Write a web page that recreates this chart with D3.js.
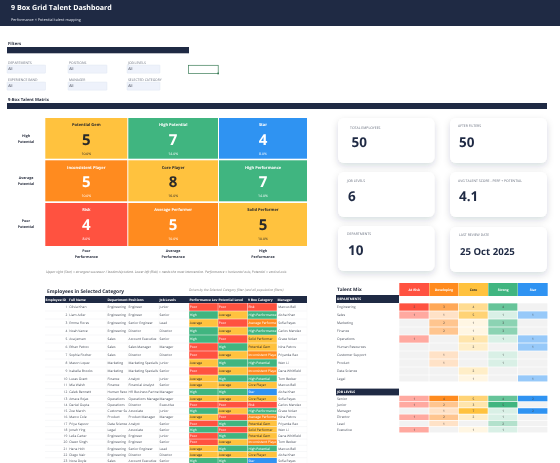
<!DOCTYPE html>
<html><head><meta charset="utf-8">
<script src="https://cdn.jsdelivr.net/npm/d3@7"></script>
<style>html,body{margin:0;padding:0;background:#fff;overflow:hidden}svg{display:block;font-family:"Open Sans",sans-serif;text-rendering:geometricPrecision;filter:blur(.28px)}</style>
</head><body><svg id="c" width="560" height="463" viewBox="0 0 560 463"></svg>
<script>
// ---------- data ----------
const filterLabels = ["DEPARTMENTS","POSITIONS","JOB LEVELS","EXPERIENCE BAND","MANAGER","SELECTED CATEGORY"];
const filterValues = ["All","All","All","All","All","All"];

const boxNames  = ["Potential Gem","High Potential","Star","Inconsistent Player","Core Player","High Performance","Risk","Average Performer","Solid Performer"];
const boxCounts = [5,7,4,5,8,7,4,5,5];
const boxShares = ["10.0%","14.0%","8.0%","10.0%","16.0%","14.0%","8.0%","10.0%","10.0%"];
const potentialLabels = ["High","Average","Poor"];
const performanceLabels = ["Poor","Average","High"];

const kpiLabels = ["TOTAL EMPLOYEES","AFTER FILTERS","JOB LEVELS","AVG TALENT SCORE - PERF + POTENTIAL","DEPARTMENTS","LAST REVIEW DATE"];
const kpiValues = ["50","50","6","4.1","10","25 Oct 2025"];

const tableHeaders = ["Employee ID","Full Name","Department","Positions","Job Levels","Performance Level","Potential Level","9 Box Category","Manager"];
const empNames = ["Olivia Khan","Liam Adler","Emma Flores","Noah Vance","Ava Jensen","Ethan Petrov","Sophia Fischer","Mason Lopez","Isabella Brooks","Lucas Grant","Mia Walsh","Caleb Bennett","Amara Rojas","Daniel Gupta","Zoe March","Marco Cole","Priya Kapoor","Jonah Ying","Leila Carter","Owen Singh","Hana Holt","Diego Nair","Nora Doyle"];
const empDepts = ["Engineering","Engineering","Engineering","Engineering","Sales","Sales","Sales","Marketing","Marketing","Finance","Finance","Human Resources","Operations","Operations","Customer Support","Product","Data Science","Legal","Engineering","Engineering","Engineering","Engineering","Sales"];
const empPositions = ["Engineer","Engineer","Senior Engineer","Director","Account Executive","Sales Manager","Director","Marketing Specialist","Marketing Specialist","Analyst","Financial Analyst","HR Business Partner","Operations Manager","Director","Associate","Product Manager","Analyst","Associate","Engineer","Engineer","Senior Engineer","Director","Account Executive"];
const empLevels = ["Junior","Senior","Lead","Director","Senior","Manager","Director","Junior","Senior","Junior","Senior","Manager","Manager","Executive","Junior","Manager","Senior","Senior","Junior","Senior","Lead","Director","Senior"];
const empPerf = ["Poor","High","Average","High","High","Poor","Poor","Average","Poor","Average","Average","High","Average","Poor","High","Average","Poor","High","Poor","Poor","Average","Average","High"];
const empPot  = ["Poor","Average","Poor","Average","Poor","High","Average","High","Average","High","Average","High","Average","Poor","Average","Poor","High","Poor","High","Average","High","Average","High"];
const empBox  = ["Risk","High Performance","Average Performer","High Performance","Solid Performer","Potential Gem","Inconsistent Player","High Potential","Inconsistent Player","High Potential","Core Player","Star","Core Player","Risk","High Performance","Average Performer","Potential Gem","Solid Performer","Potential Gem","Inconsistent Player","High Potential","Core Player","Star"];
const empMgr  = ["Marcus Bell","Aisha Khan","Sofia Reyes","Carlos Mendez","Grace Nolan","Nina Petrov","Priyanka Rao","Wen Li","Dana Whitfield","Tom Becker","Marcus Bell","Aisha Khan","Sofia Reyes","Carlos Mendez","Grace Nolan","Nina Petrov","Priyanka Rao","Wen Li","Dana Whitfield","Tom Becker","Marcus Bell","Aisha Khan","Sofia Reyes"];

const mixColumns = ["At Risk","Developing","Core","Strong","Star"];
const deptNames = ["Engineering","Sales","Marketing","Finance","Operations","Human Resources","Customer Support","Product","Data Science","Legal"];
const deptMix = [[2,3,4,4,0],[1,1,5,1,1],[0,2,1,3,0],[0,2,1,3,0],[1,0,3,1,1],[0,0,2,0,1],[0,1,0,1,0],[0,1,0,1,0],[0,0,2,0,0],[0,0,1,0,1]];
const levelNames = ["Senior","Junior","Manager","Director","Lead","Executive"];
const levelMix = [[1,4,5,4,2],[1,2,3,5,0],[0,1,7,1,2],[1,2,2,1,0],[0,1,0,2,0],[1,0,1,1,0]];

// ---------- styles ----------
const NAVY="#1f2a44", RED="#ff5240", ORANGE="#ff8b1f", YELLOW="#ffc23e", GREEN="#40b580", BLUE="#2f93f2", INK="#4a505c";
const boxColor = d3.scaleOrdinal(boxNames,[YELLOW,GREEN,BLUE,ORANGE,YELLOW,GREEN,RED,ORANGE,YELLOW]);
const levelColor = d3.scaleOrdinal(["Poor","Average","High"],[RED,YELLOW,GREEN]);
const onColor = c => c===YELLOW ? "#2a2a2a" : "#fff";

const svg = d3.select("#c");
const defs = svg.append("defs");
const shadow = defs.append("filter").attr("id","sh").attr("x","-30%").attr("y","-30%").attr("width","160%").attr("height","170%");
shadow.append("feDropShadow").attr("dx",0).attr("dy",3).attr("stdDeviation",3.5).attr("flood-color","#1f2a44").attr("flood-opacity",.16);

function T(x,y,s,o={}){
  const t = (o.parent||svg).append("text").attr("x",x).attr("y",y).attr("dy",".35em").text(s)
    .attr("font-size",o.size||3.8).attr("fill",o.fill||INK).attr("text-anchor",o.anchor||"start");
  if(o.bold) t.attr("font-weight",700);
  if(o.italic) t.attr("font-style","italic");
  if(o.fit){ // cut the text at the cell edge, as the spreadsheet does
    const full=String(s); let n=full.length;
    while(n>1 && t.node().getComputedTextLength()>o.fit){ n--; t.text(full.slice(0,n)); }
  }
  return t;
}
function R(x,y,w,h,f,o={}){
  const r=(o.parent||svg).append("rect").attr("x",x).attr("y",y).attr("width",w).attr("height",h).attr("fill",f);
  if(o.stroke) r.attr("stroke",o.stroke).attr("stroke-width",o.sw||.5);
  if(o.rx) r.attr("rx",o.rx);
  return r;
}

// ---------- header ----------
R(0,0,560,26,NAVY);
T(11,8,"9 Box Grid Talent Dashboard",{size:7.1,bold:true,fill:"#fff"});
T(11,19.7,"Performance × Potential talent mapping",{size:3.75,fill:"#dfe3ec"});

// ---------- filters ----------
T(8,44,"Filters",{size:4.2,bold:true,fill:"#2a3040"});
R(7,47,182,6.3,NAVY);
const filterX = d3.scaleOrdinal([0,1,2],[7,68,127]);
const filterW = d3.scaleOrdinal([0,1,2],[38.5,39,33]);
const filterY = d3.scaleOrdinal([0,1],[65,82]);
filterLabels.forEach((l,i)=>{
  const c=i%3, r=Math.floor(i/3);
  T(filterX(c)+1,filterY(r)-2.5,l,{size:3.4,fill:"#6b7280"});
  R(filterX(c),filterY(r),filterW(c),8.2,"#eef2fb",{stroke:"#dbe2f0",sw:.4,rx:.6});
  T(filterX(c)+1.2,filterY(r)+4.2,filterValues[i],{size:3.7,fill:"#2a3040"});
});
R(188.6,65.3,29.6,8.2,"#fff",{stroke:"#3b7d57",sw:.7});
R(217.3,72.6,1.7,1.7,"#3b7d57");

// ---------- matrix ----------
T(8,100,"9-Box Talent Matrix",{size:4.2,bold:true,fill:"#2a3040"});
R(7,103,540,6,NAVY);
const colEdges=[45.3,128.3,219], colWidths=[82,89.7,88];
const rowEdges=[118,160.3,203], rowHeights=[40.7,41,43];
const mx=d3.scaleOrdinal([0,1,2],colEdges), mw=d3.scaleOrdinal([0,1,2],colWidths);
const my=d3.scaleOrdinal([0,1,2],rowEdges), mh=d3.scaleOrdinal([0,1,2],rowHeights);
boxNames.forEach((n,i)=>{
  const c=i%3,r=Math.floor(i/3),col=boxColor(n),tx=onColor(col),cx=mx(c)+mw(c)/2;
  R(mx(c),my(r),mw(c),mh(r),col);
  T(cx,my(r)+7,n,{size:4,bold:true,fill:tx,anchor:"middle"});
  T(cx,my(r)+21.3,boxCounts[i],{size:15,bold:true,fill:tx,anchor:"middle"});
  T(cx,my(r)+35.7,boxShares[i],{size:3.5,fill:tx,anchor:"middle"});
});
potentialLabels.forEach((p,r)=>{
  const cy=my(r)+20.5;
  T(26,cy-3,p,{size:3.6,bold:true,fill:"#2a3040",anchor:"middle"});
  T(26,cy+3,"Potential",{size:3.6,bold:true,fill:"#2a3040",anchor:"middle"});
});
performanceLabels.forEach((p,c)=>{
  const cx=mx(c)+mw(c)/2;
  T(cx,250.6,p,{size:3.6,bold:true,fill:"#2a3040",anchor:"middle"});
  T(cx,256.8,"Performance",{size:3.6,bold:true,fill:"#2a3040",anchor:"middle"});
});
T(46,271.8,"Upper right (Star) = strongest successor / leadership talent.  Lower left (Risk) = needs the most intervention.  Performance = horizontal axis; Potential = vertical axis",{size:3.4,italic:true,fill:"#777"});

// ---------- KPI cards ----------
const cardX=[338,450,338,450,338,450], cardY=[118,118,172,172,226,227], cardW=[96.5,97], labelX=[350,458,347,458,347,459], valueX=[351.5,459,348,459,348,460], labelDY=[10,8,8.5,8.7,8,8];
kpiLabels.forEach((l,i)=>{
  R(cardX[i],cardY[i],cardW[i%2],45,"#fff",{rx:6}).attr("filter","url(#sh)");
  T(labelX[i],cardY[i]+labelDY[i],l,{size:3.45,fill:"#6b7280"});
  const big=i<5;
  T(valueX[i],cardY[i]+24.4,kpiValues[i],{size:big?13.5:9.6,bold:true,fill:NAVY});
});

// ---------- shared row grid ----------
const rowTop=d3.scaleLinear().domain([0,9,12,23]).range([303,375,395.4,464]);

// ---------- employee table ----------
T(47,290.8,"Employees in Selected Category",{size:4.9,bold:true,fill:"#2a3040"});
T(189,289.7,"Driven by the Selected Category filter (and all population filters)",{size:3.4,italic:true,fill:"#888"});
const tColX=[45,68.6,107,128,159,189,218,247.6,277,307];
const colFit=i=>tColX[i+1]-tColX[i]-.5;
R(45,296,262,7,NAVY);
tableHeaders.forEach((h,i)=>{
  T(i===0?45.6:tColX[i]+.5,299.6,h,{size:3.3,bold:true,fill:"#fff",fit:colFit(i)});
});
const g=svg.append("g");
empNames.forEach((name,i)=>{
  const y0=rowTop(i),y1=rowTop(i+1),cy=(y0+y1)/2;
  g.append("line").attr("x1",45).attr("x2",307).attr("y1",y1).attr("y2",y1).attr("stroke","#e9ebef").attr("stroke-width",.35);
  [68.6,107,128,159,277,307].forEach(x=>g.append("line").attr("x1",x).attr("x2",x).attr("y1",y0).attr("y2",y1).attr("stroke","#eff0f3").attr("stroke-width",.3));
  T(67.3,cy,i+1,{size:3.3,anchor:"end"});
  [name,empDepts[i],empPositions[i],empLevels[i]].forEach((v,k)=>T(tColX[k+1]+.6,cy,v,{size:3.3,fit:colFit(k+1)}));
  [[empPerf[i],levelColor(empPerf[i])],[empPot[i],levelColor(empPot[i])],[empBox[i],boxColor(empBox[i])]].forEach(([v,c],k)=>{
    R(tColX[k+5]+.2,y0+.25,tColX[k+6]-tColX[k+5]-.4,y1-y0-.5,c);
    T(tColX[k+5]+.8,cy,v,{size:3.3,fill:onColor(c),fit:colFit(k+5)-.3});
  });
  T(tColX[8]+1.2,cy,empMgr[i],{size:3.3,fit:colFit(8)});
});

// ---------- talent mix ----------
T(337,289.8,"Talent Mix",{size:4.7,bold:true,fill:"#2a3040"});
const mixColors=[RED,ORANGE,YELLOW,GREEN,BLUE];
const mixEdges=[399.3,429.3,458.7,488.3,518,548];
const maxByCol=mixColumns.map((_,c)=>d3.max(deptMix.concat(levelMix),r=>r[c]));
const shade=mixColumns.map((_,c)=>d3.scaleLinear().domain([0,maxByCol[c]]).range(["#ffffff",mixColors[c]]));
mixColumns.forEach((m,c)=>{
  R(mixEdges[c],283,mixEdges[c+1]-mixEdges[c]-.3,13,mixColors[c]);
  T((mixEdges[c]+mixEdges[c+1])/2,289.7,m,{size:3.3,bold:true,fill:onColor(mixColors[c]),anchor:"middle"});
});
function mixBlock(title,startRow,names,rows){
  const y0=rowTop(startRow), y1=rowTop(startRow+1);
  R(336,y0,63,y1-y0,NAVY);
  T(337,(y0+y1)/2,title,{size:3.3,bold:true,fill:"#fff"});
  names.forEach((n,i)=>{
    const a=rowTop(startRow+1+i), b=rowTop(startRow+2+i);
    T(337,(a+b)/2,n,{size:3.4});
    rows[i].forEach((v,c)=>{
      R(mixEdges[c],a+.35,mixEdges[c+1]-mixEdges[c]-.6,b-a-.7, v? shade[c](v):"#f2f2f2");
      if(v) T((mixEdges[c]+mixEdges[c+1])/2,(a+b)/2,v,{size:3.2,fill:"#444",anchor:"middle"});
    });
  });
}
mixBlock("DEPARTMENTS",-1,deptNames,deptMix);
mixBlock("JOB LEVELS",11,levelNames,levelMix);
</script></body></html>
